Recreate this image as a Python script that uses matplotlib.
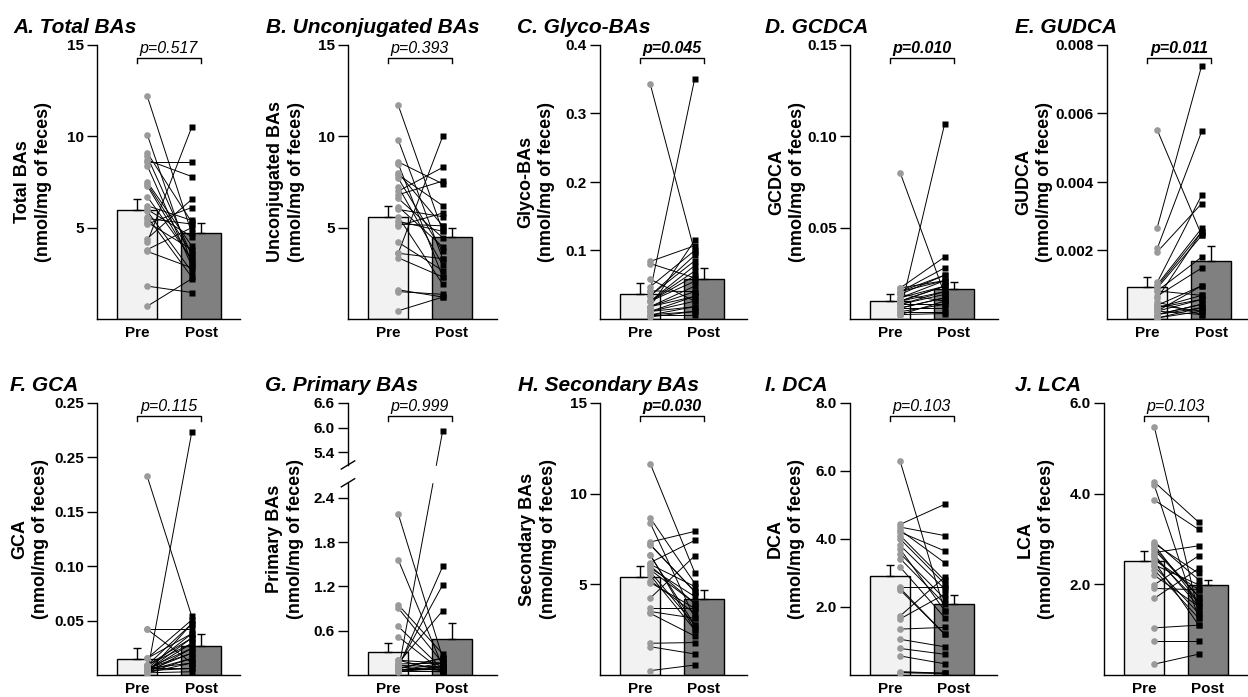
import numpy as np
import matplotlib
matplotlib.use("Agg")
import matplotlib.pyplot as plt

plt.rcParams["font.family"] = ["Liberation Sans", "DejaVu Sans"]

PRE_CLR = "#f2f2f2"
POST_CLR = "#808080"
DOT_CLR = "#9a9a9a"
W, H = 1248, 697

# ---- values (nmol/mg of feces) ----
a_pre = [12.2, 10.1, 9.1, 8.9, 8.7, 8.4, 7.5, 7.3, 6.7, 6.2, 5.9, 5.5, 5.3, 5.2, 4.4, 4.2, 3.8, 3.7, 1.8, 0.7, 8.6, 6.0, 5.6, 7.4]
a_post = [4.7, 3.0, 5.3, 3.5, 7.8, 2.9, 4.0, 3.2, 3.3, 5.4, 2.6, 5.2, 3.8, 6.1, 6.55, 10.5, 5.0, 2.8, 1.45, 2.2, 8.6, 4.5, 2.3, 3.6]
a_mean, a_sem = [5.95, 4.72], [0.62, 0.55]

b_pre = [11.7, 9.8, 8.6, 8.5, 8.0, 7.7, 7.25, 7.0, 6.6, 6.15, 6.0, 5.6, 5.35, 5.1, 4.2, 3.6, 3.6, 3.35, 1.6, 1.5, 0.45, 5.2, 7.9, 6.8]
b_post = [4.8, 3.3, 7.4, 2.3, 5.1, 3.7, 2.95, 8.3, 4.45, 3.95, 5.6, 1.9, 4.8, 5.8, 2.65, 10.0, 3.3, 2.3, 1.2, 1.35, 1.2, 5.1, 6.2, 7.55]
b_mean, b_sem = [5.6, 4.48], [0.58, 0.51]

c_pre = [0.343, 0.084, 0.081, 0.058, 0.047, 0.041, 0.034, 0.034, 0.026, 0.026, 0.026, 0.018, 0.018, 0.018, 0.018, 0.011, 0.011, 0.011, 0.006, 0.006, 0.006, 0.003, 0.026, 0.041]
c_post = [0.098, 0.107, 0.060, 0.026, 0.100, 0.351, 0.085, 0.093, 0.078, 0.070, 0.063, 0.048, 0.115, 0.033, 0.040, 0.026, 0.018, 0.033, 0.011, 0.018, 0.006, 0.011, 0.055, 0.040]
c_mean, c_sem = [0.037, 0.059], [0.015, 0.015]

d_pre = [0.080, 0.017, 0.015, 0.0135, 0.0116, 0.0098, 0.008, 0.006, 0.004, 0.0024, 0.017, 0.015, 0.0116, 0.0098, 0.008, 0.006, 0.004, 0.0024, 0.0135, 0.008, 0.006, 0.004, 0.0098, 0.015]
d_post = [0.0135, 0.034, 0.028, 0.024, 0.021, 0.018, 0.015, 0.0116, 0.107, 0.0098, 0.021, 0.024, 0.018, 0.015, 0.008, 0.006, 0.004, 0.003, 0.0098, 0.0135, 0.0116, 0.008, 0.018, 0.021]
d_mean, d_sem = [0.0098, 0.0162], [0.0037, 0.0038]

e_pre = [0.00552, 0.00267, 0.00206, 0.00196, 0.00107, 0.00100, 0.00095, 0.00090, 0.00082, 0.00067, 0.00040, 0.00033, 0.00023, 0.00013, 0.00003, 0.00040, 0.00023, 0.00013, 0.00003, 0.00033, 0.00013, 0.00060, 0.00082, 0.00050, 0.00023]
e_post = [0.00244, 0.0074, 0.00548, 0.00337, 0.00362, 0.00265, 0.00255, 0.00244, 0.00181, 0.00149, 0.00097, 0.00069, 0.00057, 0.00043, 0.00033, 0.00023, 0.00013, 0.00043, 0.00023, 0.00057, 0.00033, 0.00255, 0.00069, 0.00013, 0.00097]
e_mean, e_sem = [0.00092, 0.00169], [0.0003, 0.00044]

f_pre = [0.1825, 0.042, 0.0153, 0.009, 0.006, 0.004, 0.002, 0.009, 0.006, 0.004, 0.002, 0.006, 0.004, 0.002, 0.009, 0.004, 0.002, 0.006, 0.004, 0.002, 0.042, 0.0153, 0.006, 0.002]
f_post = [0.054, 0.042, 0.0506, 0.047, 0.038, 0.034, 0.223, 0.029, 0.0245, 0.02, 0.0153, 0.011, 0.006, 0.003, 0.034, 0.029, 0.0245, 0.02, 0.0153, 0.011, 0.011, 0.038, 0.006, 0.047]
f_mean, f_sem = [0.0147, 0.027], [0.0098, 0.0104]

g_pre = [2.18, 1.56, 0.95, 0.906, 0.657, 0.52, 0.20, 0.16, 0.07, 0.05, 0.10, 0.12, 0.08, 0.06, 0.15, 0.09, 0.04, 0.11, 0.07, 0.05, 0.13, 0.20, 0.06, 0.08]
g_post = [0.23, 0.11, 0.285, 0.16, 0.08, 0.045, 0.16, 0.87, 0.11, 5.93, 1.47, 1.22, 0.08, 0.045, 0.16, 0.23, 0.11, 0.06, 0.08, 0.045, 0.11, 0.06, 0.16, 0.23]
g_mean, g_sem = [0.317, 0.485], [0.113, 0.225]

h_pre = [11.66, 8.66, 8.38, 7.33, 7.18, 6.63, 6.2, 6.02, 5.7, 5.2, 4.24, 3.68, 3.4, 1.75, 1.56, 0.24, 6.1, 5.9, 5.5, 5.1, 7.2, 3.5, 6.6, 5.8]
h_post = [5.65, 5.06, 3.13, 7.92, 4.6, 2.49, 7.42, 3.96, 2.76, 3.4, 6.57, 3.68, 2.15, 1.79, 1.16, 0.55, 4.88, 4.33, 2.49, 3.68, 4.6, 3.13, 2.76, 3.96]
h_mean, h_sem = [5.38, 4.18], [0.64, 0.48]

i_pre = [6.28, 4.43, 4.35, 4.26, 4.1, 3.81, 3.57, 3.42, 3.17, 2.58, 2.5, 1.74, 1.65, 1.35, 1.05, 0.78, 0.56, 0.07, 4.2, 4.0, 3.7, 2.55, 0.10, 0.07]
i_post = [1.89, 5.02, 4.1, 3.3, 2.78, 2.53, 2.24, 2.09, 1.69, 2.58, 1.2, 2.88, 2.38, 1.4, 0.83, 0.61, 0.33, 0.05, 3.65, 2.68, 1.89, 1.2, 0.05, 0.05]
i_mean, i_sem = [2.9, 2.09], [0.34, 0.26]

j_pre = [5.48, 4.26, 4.19, 3.86, 2.94, 2.87, 2.76, 2.65, 2.54, 2.43, 2.32, 1.99, 1.91, 1.69, 1.04, 0.75, 0.24, 2.9, 2.6, 2.5, 2.4, 2.7, 2.2, 2.8]
j_post = [1.36, 3.37, 1.25, 3.21, 2.1, 1.6, 1.73, 1.51, 1.88, 1.99, 1.25, 2.63, 1.88, 2.35, 1.1, 0.75, 0.46, 2.24, 1.6, 1.1, 1.36, 2.85, 1.51, 1.73]
j_mean, j_sem = [2.52, 1.99], [0.22, 0.11]

titles = ["A. Total BAs", "B. Unconjugated BAs", "C. Glyco-BAs", "D. GCDCA", "E. GUDCA",
          "F. GCA", "G. Primary BAs", "H. Secondary BAs", "I. DCA", "J. LCA"]
ylabels = ["Total BAs", "Unconjugated BAs", "Glyco-BAs", "GCDCA", "GUDCA",
           "GCA", "Primary BAs", "Secondary BAs", "DCA", "LCA"]
pvals = ["p=0.517", "p=0.393", "p=0.045", "p=0.010", "p=0.011",
         "p=0.115", "p=0.999", "p=0.030", "p=0.103", "p=0.103"]
signif = [False, False, True, True, True, False, False, True, False, False]
ymax = [15, 15, 0.4, 0.15, 0.008, 0.25, 6.6, 15, 8.0, 6.0]
yticks = [[5, 10, 15], [5, 10, 15], [0.1, 0.2, 0.3, 0.4], [0.05, 0.10, 0.15],
          [0.002, 0.004, 0.006, 0.008], [0.05, 0.10, 0.15, 0.20, 0.25],
          [0.6, 1.2, 1.8, 2.4, 5.4, 6.0, 6.6], [5, 10, 15], [2.0, 4.0, 6.0, 8.0], [2.0, 4.0, 6.0]]
yticklabels = [["5", "10", "15"], ["5", "10", "15"], ["0.1", "0.2", "0.3", "0.4"],
               ["0.05", "0.10", "0.15"], ["0.002", "0.004", "0.006", "0.008"],
               ["0.05", "0.10", "0.15", "0.25", "0.25"],
               ["0.6", "1.2", "1.8", "2.4", "5.4", "6.0", "6.6"],
               ["5", "10", "15"], ["2.0", "4.0", "6.0", "8.0"], ["2.0", "4.0", "6.0"]]
pre_vals = [a_pre, b_pre, c_pre, d_pre, e_pre, f_pre, g_pre, h_pre, i_pre, j_pre]
post_vals = [a_post, b_post, c_post, d_post, e_post, f_post, g_post, h_post, i_post, j_post]
means = [a_mean, b_mean, c_mean, d_mean, e_mean, f_mean, g_mean, h_mean, i_mean, j_mean]
sems = [a_sem, b_sem, c_sem, d_sem, e_sem, f_sem, g_sem, h_sem, i_sem, j_sem]

# ---- layout in pixels ----
ax_left = [97, 348, 600, 850, 1107, 97, 348, 600, 850, 1104]
ax_width = [143, 149, 147, 148, 141, 143, 149, 147, 147, 144]
row_top, row_bot = [45, 403], [319, 675]
title_dx = [84, 82, 83, 85, 92, 87, 83, 82, 85, 89]
label_dx = [45, 43, 45, 44, 54, 48, 44, 43, 45, 49]
PX_UNIT = 64.0


# broken axis for panel G
def g_fwd(y):
    y = np.asarray(y, float)
    return np.where(y <= 2.6, y, np.where(y <= 5.1, 2.6 + (y - 2.6) * 0.098, 2.845 + (y - 5.1) * 0.558))


def g_inv(t):
    t = np.asarray(t, float)
    return np.where(t <= 2.6, t, np.where(t <= 2.845, 2.6 + (t - 2.6) / 0.098, 5.1 + (t - 2.845) / 0.558))


def draw_panel(fig, k):
    row = k // 5
    top, bot = row_top[row], row_bot[row]
    w, h = ax_width[k], bot - top
    ax = fig.add_axes([ax_left[k] / W, (H - bot) / H, w / W, h / H])
    if k == 6:
        ax.set_yscale("function", functions=(g_fwd, g_inv))

    ax.bar([0, 1], means[k], width=0.61, color=[PRE_CLR, POST_CLR], edgecolor="black", lw=1.0, zorder=1)
    for i in range(2):
        ax.errorbar(i, means[k][i], yerr=[[0], [sems[k][i]]], color="black", lw=1.0,
                    capsize=3, capthick=1.0, zorder=2)
    xp, xq = 0.16, 0.855
    for p, q in zip(pre_vals[k], post_vals[k]):
        ax.plot([xp, xq], [p, q], color="black", lw=0.7, zorder=3)
    ax.plot([xp] * len(pre_vals[k]), pre_vals[k], "o", color=DOT_CLR, ms=4.8, mec="none", zorder=4)
    ax.plot([xq] * len(post_vals[k]), post_vals[k], "s", color="black", ms=4.0, mec="none", zorder=4)

    ax.set_xlim(-40 / PX_UNIT, -40 / PX_UNIT + w / PX_UNIT)
    ax.set_ylim(0, ymax[k])
    ax.set_xticks([0, 1])
    ax.set_xticklabels(["Pre", "Post"], fontsize=11, fontweight="bold")
    ax.set_yticks(yticks[k])
    ax.set_yticklabels(yticklabels[k], fontsize=11, fontweight="bold")
    ax.tick_params(axis="x", length=0, pad=5)
    ax.tick_params(axis="y", length=7.5, width=1.0, pad=2, direction="out")
    ax.spines["top"].set_visible(False)
    ax.spines["right"].set_visible(False)
    for s in ("left", "bottom"):
        ax.spines[s].set_linewidth(1.0)

    if k == 6:
        tot = float(g_fwd(6.6))
        lo, hi = float(g_fwd(2.62)) / tot, float(g_fwd(5.08)) / tot
        ax.spines["left"].set_visible(False)
        ax.plot([0, 0], [0, lo], transform=ax.transAxes, color="black", lw=1.0, clip_on=False, zorder=6)
        ax.plot([0, 0], [hi, 1], transform=ax.transAxes, color="black", lw=1.0, clip_on=False, zorder=6)
        for f in (lo, hi):
            ax.plot([-0.045, 0.045], [f - 0.015, f + 0.015], transform=ax.transAxes,
                    color="black", lw=1.0, clip_on=False, zorder=6)
        ax.axhspan(2.75, 5.0, xmin=0.01, xmax=1.0, color="white", zorder=3.5)

    ax.set_ylabel(ylabels[k] + "\n(nmol/mg of feces)", fontsize=13, fontweight="bold", linespacing=1.3)
    ax.yaxis.set_label_coords(-label_dx[k] / w, 0.5)

    ax.text(-title_dx[k] / w, 1 + 12 / h, titles[k], transform=ax.transAxes, fontsize=15,
            fontweight="bold", style="italic", ha="left", va="baseline")

    by = 1 - 13 / h
    tk = 5 / h
    ax.plot([0, 0, 1, 1], [by - tk, by, by, by - tk], color="black", lw=1.0,
            transform=ax.get_xaxis_transform(), clip_on=False, zorder=6)
    ax.text(0.5, by + 2 / h, pvals[k], transform=ax.get_xaxis_transform(), ha="center", va="bottom",
            fontsize=11.5, style="italic", fontweight="bold" if signif[k] else "normal")


def main():
    fig = plt.figure(figsize=(W / 100, H / 100), dpi=100)
    for k in range(10):
        draw_panel(fig, k)
    fig.savefig("out.png", dpi=100, facecolor="white")


if __name__ == "__main__":
    main()
